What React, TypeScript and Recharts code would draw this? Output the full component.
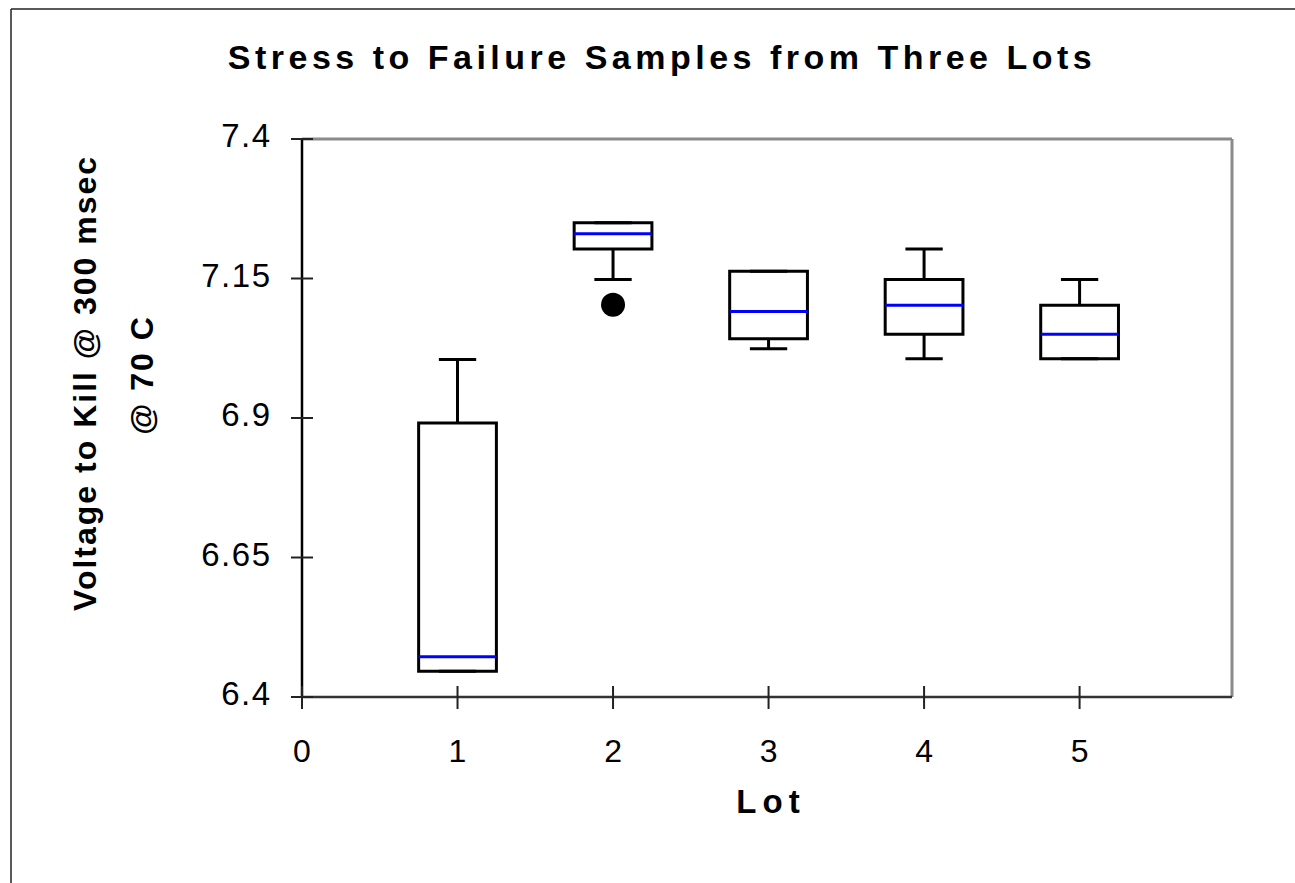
import React from "react";
import {
  ComposedChart,
  XAxis,
  YAxis,
  Scatter,
  ReferenceArea,
  ReferenceLine,
  Customized,
} from "recharts";

// ---- data ----
const lots = [1, 2, 3, 4, 5];
const q1 = [6.446, 7.203, 7.042, 7.05, 7.006];
const medians = [6.472, 7.23, 7.091, 7.102, 7.05];
const q3 = [6.891, 7.25, 7.163, 7.148, 7.102];
const whiskerLow = [6.446, 7.148, 7.024, 7.006, 7.006];
const whiskerHigh = [7.005, 7.25, 7.163, 7.203, 7.148];
const outlierLots = [2];
const outlierValues = [7.103];
const xTicks = [0, 1, 2, 3, 4, 5];
const yTicks = [6.4, 6.65, 6.9, 7.15, 7.4];

const title = "Stress to Failure Samples from Three Lots";
const yLabel1 = "Voltage to Kill @ 300 msec";
const yLabel2 = "@ 70 C";
const xLabel = "Lot";

const outlierData = outlierLots.map((l, i) => ({ x: l, y: outlierValues[i] }));

const FONT = "'Liberation Sans', Arial, sans-serif";
const BOX_HALF = 0.25;
const CAP_HALF = 0.12;

const XTick = (props: any) => {
  const { x, y, payload } = props;
  return (
    <g>
      <line x1={x} x2={x} y1={y - 11} y2={y + 12} stroke="#222" strokeWidth={2} />
      <text
        x={x}
        y={y + 65}
        textAnchor="middle"
        fontFamily={FONT}
        fontSize={32}
        fill="#000"
      >
        {payload.value}
      </text>
    </g>
  );
};

const YTick = (props: any) => {
  const { x, y, payload } = props;
  return (
    <g>
      <line x1={x - 11} x2={x + 11} y1={y} y2={y} stroke="#222" strokeWidth={2} />
      <text
        x={x - 32 + 1.5}
        y={y + 8}
        textAnchor="end"
        fontFamily={FONT}
        fontSize={33}
        letterSpacing={1.5}
        fill="#000"
      >
        {payload.value}
      </text>
    </g>
  );
};

const TextLayer = () => (
  <g>
    <line x1={3} x2={1300} y1={1} y2={1} stroke="#222" strokeWidth={1.5} />
    <line x1={3} x2={3} y1={1} y2={900} stroke="#222" strokeWidth={1.5} />
    <text
      x={654}
      y={61}
      textAnchor="middle"
      fontFamily={FONT}
      fontWeight="bold"
      fontSize={34}
      letterSpacing={4.5}
      fill="#000"
    >
      {title}
    </text>
    <text
      x={88}
      y={375}
      transform="rotate(-90, 88, 375)"
      textAnchor="middle"
      fontFamily={FONT}
      fontWeight="bold"
      fontSize={32}
      letterSpacing={2}
      fill="#000"
    >
      {yLabel1}
    </text>
    <text
      x={145}
      y={367}
      transform="rotate(-90, 145, 367)"
      textAnchor="middle"
      fontFamily={FONT}
      fontWeight="bold"
      fontSize={32}
      letterSpacing={2}
      fill="#000"
    >
      {yLabel2}
    </text>
    <text
      x={763}
      y={805}
      textAnchor="middle"
      fontFamily={FONT}
      fontWeight="bold"
      fontSize={33}
      letterSpacing={6}
      fill="#000"
    >
      {xLabel}
    </text>
  </g>
);

const OutlierDot = (props: any) => {
  const { cx, cy } = props;
  return <circle cx={cx} cy={cy} r={12} fill="#000" />;
};

export default function App() {
  return (
    <div
      style={{
        position: "fixed",
        left: 8,
        top: 8,
        width: 1287,
        height: 875,
        background: "#fff",
        overflow: "hidden",
      }}
    >
      <ComposedChart
        width={1287}
        height={875}
        margin={{ top: 131, right: 63, bottom: 0, left: 0 }}
      >
        <XAxis
          type="number"
          dataKey="x"
          domain={[0, 5.98]}
          ticks={xTicks}
          allowDataOverflow
          interval={0}
          height={186}
          tickSize={0}
          tickMargin={0}
          tickLine={false}
          axisLine={{ stroke: "#333", strokeWidth: 2.5 }}
          tick={<XTick />}
        />
        <YAxis
          type="number"
          dataKey="y"
          domain={[6.4, 7.4]}
          ticks={yTicks}
          allowDataOverflow
          interval={0}
          width={294}
          tickSize={0}
          tickMargin={0}
          tickLine={false}
          axisLine={{ stroke: "#000", strokeWidth: 2.5 }}
          tick={<YTick />}
        />
        <ReferenceLine y={7.4} stroke="#8a8a8a" strokeWidth={3} />
        <ReferenceLine x={5.98} stroke="#8a8a8a" strokeWidth={3} />
        {lots.map((l, i) => (
          <ReferenceArea
            key={"box" + l}
            x1={l - BOX_HALF}
            x2={l + BOX_HALF}
            y1={q1[i]}
            y2={q3[i]}
            fill="#fff"
            fillOpacity={1}
            stroke="#000"
            strokeWidth={3}
          />
        ))}
        {lots.map((l, i) => (
          <ReferenceLine
            key={"wh" + l}
            segment={[
              { x: l, y: q3[i] },
              { x: l, y: whiskerHigh[i] },
            ]}
            stroke="#000"
            strokeWidth={3}
          />
        ))}
        {lots.map((l, i) => (
          <ReferenceLine
            key={"wl" + l}
            segment={[
              { x: l, y: q1[i] },
              { x: l, y: whiskerLow[i] },
            ]}
            stroke="#000"
            strokeWidth={3}
          />
        ))}
        {lots.map((l, i) => (
          <ReferenceLine
            key={"ch" + l}
            segment={[
              { x: l - CAP_HALF, y: whiskerHigh[i] },
              { x: l + CAP_HALF, y: whiskerHigh[i] },
            ]}
            stroke="#000"
            strokeWidth={3}
          />
        ))}
        {lots.map((l, i) => (
          <ReferenceLine
            key={"cl" + l}
            segment={[
              { x: l - CAP_HALF, y: whiskerLow[i] },
              { x: l + CAP_HALF, y: whiskerLow[i] },
            ]}
            stroke="#000"
            strokeWidth={3}
          />
        ))}
        {lots.map((l, i) => (
          <ReferenceLine
            key={"med" + l}
            segment={[
              { x: l - BOX_HALF, y: medians[i] },
              { x: l + BOX_HALF, y: medians[i] },
            ]}
            stroke="#0000ff"
            strokeWidth={3}
          />
        ))}
        <Scatter
          data={outlierData}
          dataKey="y"
          fill="#000"
          shape={<OutlierDot />}
          isAnimationActive={false}
        />
        <Customized component={TextLayer} />
      </ComposedChart>
    </div>
  );
}
